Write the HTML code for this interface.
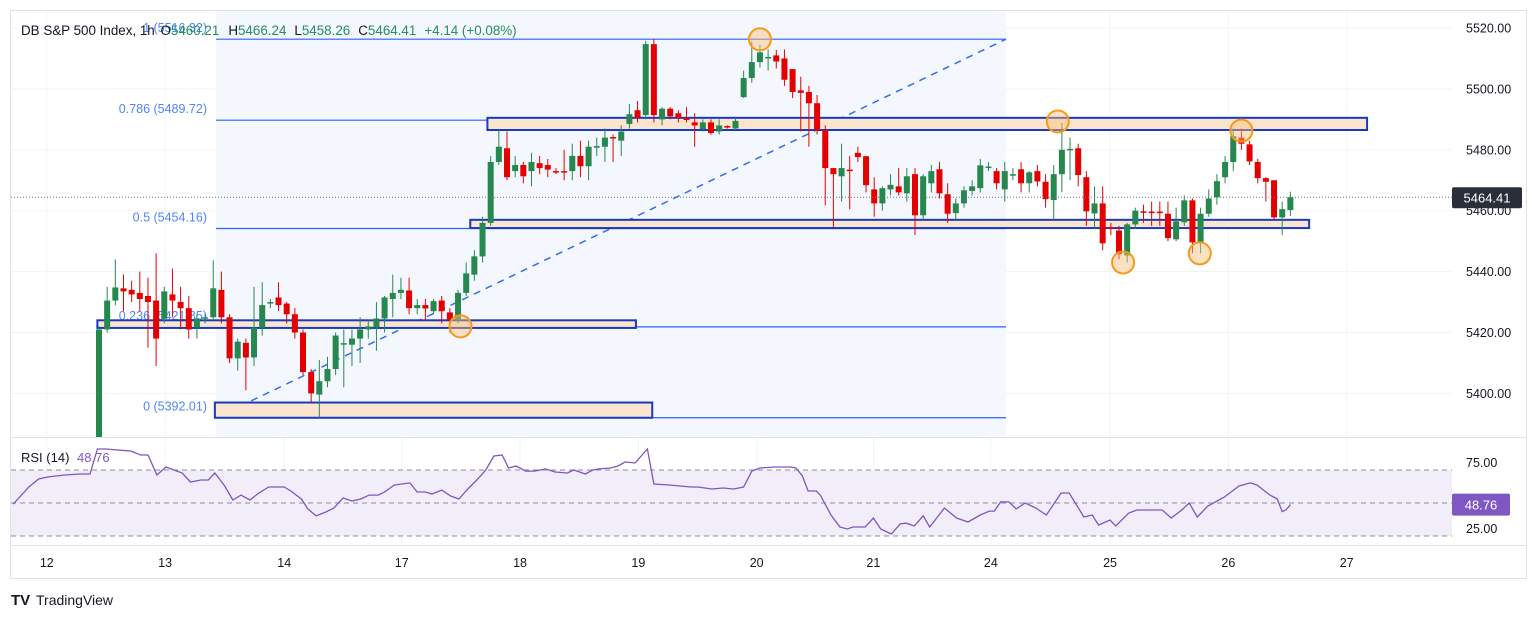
<!DOCTYPE html>
<html><head><meta charset="utf-8">
<style>
html,body{margin:0;padding:0;background:#fff;}
body{width:1536px;height:619px;overflow:hidden;font-family:"Liberation Sans",sans-serif;}
svg text{font-family:"Liberation Sans",sans-serif;}
</style></head>
<body>
<svg id="chart" width="1536" height="619" viewBox="0 0 1536 619" xmlns="http://www.w3.org/2000/svg">
<defs><clipPath id="pclip"><rect x="11" y="11" width="1441" height="426"/></clipPath>
<clipPath id="rclip"><rect x="11" y="438" width="1441" height="107"/></clipPath></defs>
<rect x="10.5" y="10.5" width="1516" height="568" fill="#fff" stroke="#e0e3eb"/>
<g id="grid"></g>
<rect x="216" y="11" width="790" height="426" fill="#f5f7fe"/>
<g id="fib"></g>
<g id="zones"></g>
<g id="candles" clip-path="url(#pclip)"></g>
<g id="circles"></g>
<g id="rsi"></g>
<g id="axes"></g>
<line x1="11" y1="437.5" x2="1526" y2="437.5" stroke="#e0e3eb"/>
<line x1="11" y1="545.5" x2="1526" y2="545.5" stroke="#e0e3eb"/>
<text x="21" y="35" font-size="13.4" fill="#131722">DB S&amp;P 500 Index, 1h <tspan fill="#131722" dx="2">O</tspan><tspan fill="#22915a">5460.21</tspan><tspan fill="#131722" dx="9">H</tspan><tspan fill="#22915a">5466.24</tspan><tspan fill="#131722" dx="8">L</tspan><tspan fill="#22915a">5458.26</tspan><tspan fill="#131722" dx="8">C</tspan><tspan fill="#22915a">5464.41</tspan><tspan fill="#22915a" dx="8">+4.14 (+0.08%)</tspan></text>
<text x="21" y="462" font-size="13" fill="#131722">RSI (14) <tspan fill="#7e57c2" dx="4">48.76</tspan></text>
<g><text x="11" y="605" font-size="15" font-weight="bold" fill="#131722">TV</text><text x="36" y="605" font-size="14" fill="#131722">TradingView</text></g>
</svg>
<script>
const priceTicks=[5520,5500,5480,5460,5440,5420,5400];
const dayLabels=["12","13","14","17","18","19","20","21","24","25","26","27"];
const dayBars=[-6.4,8.1,22.7,37.1,51.6,66.1,80.6,94.9,109.3,123.9,138.4,152.9];
const opens=[5385,5421,5430.5,5434.5,5434,5433,5432,5430.5,5424.5,5432.5,5430,5428,5421.7,5424.6,5425,5434,5425,5411.5,5416.6,5411.8,5421.6,5429.5,5431.5,5429.5,5426,5420,5407,5399.6,5404,5408,5416,5416,5418,5421,5421.7,5424.6,5431,5433,5433.8,5428,5429,5427,5430.5,5426.6,5424,5433,5439,5445,5456,5476,5480.5,5473,5475,5473,5475.6,5475,5473,5473,5473,5478,5474.6,5481,5481,5484.2,5483,5488.5,5493,5491.4,5514.7,5490,5493.5,5492,5490.5,5489,5486.8,5489,5486,5487.8,5487,5497.3,5503.6,5508.8,5510,5511,5510,5506.5,5499.5,5499,5495.3,5486.4,5474,5471.3,5473.5,5479,5477.9,5467,5462.4,5467,5468,5465.7,5472,5458.5,5469,5473.6,5465.4,5459.2,5462.4,5466.5,5467.4,5474,5473,5467,5471.5,5473.6,5469,5473,5469.5,5463.5,5472,5480,5480.5,5471,5459.1,5462.4,5454.6,5453.5,5445.3,5455.5,5459.8,5459.7,5459.7,5459,5450.6,5456.2,5463.4,5449.3,5459,5464.4,5471,5476,5484,5481.8,5476,5470.7,5470,5457.8,5460.21];
const highs=[5422,5435,5444,5439,5437,5440,5438,5446,5435,5441,5435,5432,5426,5426,5443.7,5440,5426,5418,5418,5435,5436.5,5431,5436.5,5430,5428,5421,5408,5411,5412,5420,5421,5421,5425,5424,5430,5432,5439,5438,5438,5431,5431,5431,5432,5428,5434,5443,5447,5458,5478,5486.5,5486,5478,5476,5479,5478,5477,5474,5480,5482,5483,5483,5484,5487,5485,5488,5495,5496,5515.8,5516.3,5494,5494,5493,5494,5492,5490,5490,5490,5488,5490.5,5506,5515.5,5514.5,5513,5512.8,5513,5506.5,5504,5501,5498,5488,5474,5482,5478,5481,5478,5471,5468,5472,5474,5474,5474,5472,5475,5476,5469,5464,5468,5470,5477,5476,5474,5476,5474,5476,5473,5475,5472,5475,5488.8,5484,5482,5473,5468,5468,5456,5455,5456,5461,5462,5463,5463,5463,5461,5465,5464,5461,5467,5472,5478,5487,5487,5483,5477,5471,5470,5463,5466.24];
const lows=[5384,5420,5429,5427,5430,5427,5415,5409,5423,5425,5421,5418,5418,5423,5424,5423,5410,5407.5,5401,5409,5419,5428,5427,5423,5418,5406,5397,5392,5402,5406,5402,5409,5410,5418,5414,5420,5425,5431,5426,5426,5424,5426,5423,5420,5423,5432,5437,5443,5455,5475,5470,5471,5469,5468,5472,5471,5472,5470,5470,5471,5470,5478,5476,5476,5478,5487,5489,5490,5489,5488,5490,5489,5489,5481,5486,5485,5485,5487,5486.5,5497,5502,5507,5506,5506.7,5501,5497,5486,5481,5485,5461.8,5454.5,5463,5460.5,5476,5466,5458,5460,5465,5465,5463,5452,5457,5466,5464,5456,5457,5461,5465,5466,5473,5467,5463,5470,5466,5466,5468,5461,5457,5466,5470,5468,5455,5454,5447,5452,5444,5443,5454,5456,5455,5455,5450,5450,5455,5446,5446,5458,5462,5469,5473,5480,5475,5469,5463,5457,5452,5458.26];
const closes=[5421,5430.5,5434.8,5433.5,5432.5,5431,5430,5418,5433.5,5430.5,5428,5421,5424.6,5425,5434.5,5425,5411.5,5417,5411.8,5421.6,5429,5430,5429,5426,5420,5407,5400,5404,5408,5419,5416.5,5418,5421,5422,5424.6,5431.5,5433,5434,5428,5429,5427.9,5430.3,5427,5424,5433,5439.4,5445,5456,5476,5481,5471,5475,5471.3,5476,5474,5473.5,5472.7,5472.6,5478,5474.6,5481,5481.2,5484,5484,5486,5491.7,5490.5,5514.7,5491.4,5493.5,5491,5490.5,5489.8,5488,5489,5485.5,5488,5487.3,5489.5,5503.6,5508.8,5512,5510.5,5509,5503,5499,5498.7,5495.3,5486.4,5474,5472,5474,5473,5477.6,5468.4,5462.4,5467.4,5468.5,5466,5471.3,5458.5,5471.3,5473,5465.7,5459,5462.4,5466.7,5468,5474.9,5474.5,5469,5473,5472,5469,5472.6,5469.6,5463.8,5472,5480,5480.3,5471.7,5459.8,5462.4,5449.3,5454,5445.7,5455.5,5460,5459.6,5459.5,5459.2,5451,5456.5,5463.4,5449.6,5459,5464,5469.7,5476,5484.5,5482,5476.2,5470.7,5469.5,5457.8,5460.5,5464.41];
const rsiBars=[-10.5,-8.6,-7.4,-6.3,-4.2,-2.3,-1.1,-0.2,0.9,2.1,3.9,5.1,6.0,7.1,8.2,10.2,11.2,12.5,13.4,14.2,15.4,16.4,17.4,18.5,19.6,20.8,22.7,23.5,24.8,25.6,26.6,27.8,28.8,29.9,31.0,32.1,33.1,34.2,35.0,36.2,38.1,39.0,40.0,40.8,42.0,43.1,44.1,45.2,46.3,47.4,48.4,49.4,50.2,51.1,52.3,53.4,54.7,55.9,57.4,58.2,59.6,60.5,61.3,62.7,63.6,64.5,65.7,67.2,68.0,69.9,72.5,73.4,75.1,76.5,77.8,79.0,80.0,81.0,82.8,84.7,85.4,86.2,86.9,87.9,88.4,89.7,90.8,91.7,92.4,93.9,94.9,95.8,97.1,98.2,98.9,99.9,101.0,101.8,103.6,105.1,106.5,108.0,109.1,109.7,110.5,111.5,112.4,113.5,114.8,116.1,117.9,118.9,120.7,121.7,122.5,123.9,124.6,126.2,127.2,130.3,131.4,132.7,133.6,134.6,135.9,137.9,139.7,141.1,141.9,143.5,144.4,145.0,145.5,146.0];
const rsiValues=[49.2,62.1,68.2,69.7,71.2,72,72,90.9,90.9,90.2,89.4,86.4,86.4,71.2,77.3,72.7,65.9,67.4,67.4,72.7,62.9,52.3,56,52.3,57.6,62.1,62.1,59.1,53,45.5,40.2,43.2,46.2,53.8,51.5,53,56,56,58.3,63.6,65.2,58.3,58.3,56.8,59.8,55.3,53,60.6,67.4,75,85.6,86.4,76.5,78,74.2,74.2,75.8,73.5,72.7,75,72,75,75.8,76.5,78,81.1,80.3,90.9,64.4,63.6,62.1,62.1,60.6,61.4,60.6,62.1,74.2,76.5,77.3,77.3,76.5,70.5,59.1,59.1,56,40.9,31.8,30.3,31.8,31.8,38.6,30.3,26.5,34.1,34.8,32.6,40.2,31.8,46.2,38.6,35.6,40.9,43.9,43.9,50.8,50.8,45.5,50,46.2,40.9,57.6,57.6,39.4,40.9,33.3,37.1,32.6,42.4,44.7,44.7,38.6,44.7,50,39.4,47.7,54.5,62.9,65.2,63.6,56,53,43.5,45,48.76];
const rsiLevels=[75,50,25];
const fibRatios=["1","0.786","0.5","0.236","0"];
const fibPrices=[5516.32,5489.72,5454.16,5421.85,5392.01];
const zoneTop=[5490.5,5457,5424,5397];
const zoneBottom=[5486.5,5454.3,5421.5,5392];
const zoneStartBar=[47.6,45.5,-0.2,14.2];
const zoneEndBar=[155.4,148.3,65.8,67.8];
const circleBars=[81,117.5,140,44.3,125.5,134.9];
const circlePrices=[5516.3,5489.3,5486.3,5422,5443,5446];

const NS="http://www.w3.org/2000/svg";
const X0=99, BW=8.16;
const x=b=>X0+b*BW;
const y=p=>28+(5520-p)*3.045;
const ry=v=>503-(v-50)*1.32;
function mk(tag,attrs,parent){const e=document.createElementNS(NS,tag);for(const k in attrs)e.setAttribute(k,attrs[k]);parent.appendChild(e);return e;}
const grid=document.getElementById('grid'),axes=document.getElementById('axes');
priceTicks.forEach(p=>{
  const l=mk('line',{x1:11,x2:1452,y1:y(p),y2:y(p),stroke:'#f0f3fa'},grid);
  
  
  const t=mk('text',{x:1466,y:y(p)+4.5,'font-size':12.5,fill:'#131722'},axes);
  t.textContent=p.toFixed(2);
  
  
});
dayLabels.forEach((d,i)=>{
  const xx=x(dayBars[i]);
  const l=mk('line',{x1:xx,x2:xx,y1:11,y2:545,stroke:'#f0f3fa'},grid);
  
  
  const t=mk('text',{x:xx,y:567,'font-size':12.5,'text-anchor':'middle',fill:'#131722'},axes);
  t.textContent=d;
  
  
});
const fib=document.getElementById('fib');
fibPrices.forEach((p,i)=>{
  const l=mk('line',{x1:216,x2:1006,y1:y(p),y2:y(p),stroke:'#2962ff','stroke-width':1.2},fib);
  
  
  const t=mk('text',{x:207,y:y(p)-7,'font-size':12.5,'text-anchor':'end',fill:'#4f86f7'},fib);
  t.textContent=fibRatios[i]+' ('+p.toFixed(2)+')';
  
  
});
const tl=mk('line',{x1:216,y1:y(fibPrices[4]),x2:1006,y2:y(fibPrices[0]),stroke:'#2f6ff0','stroke-width':1.5,'stroke-dasharray':'7 6'},fib);


const zones=document.getElementById('zones');
zoneTop.forEach((t,i)=>{
  const r=mk('rect',{x:x(zoneStartBar[i]),y:y(t),width:x(zoneEndBar[i])-x(zoneStartBar[i]),height:y(zoneBottom[i])-y(t),fill:'#fbe5cf',stroke:'#1739c4','stroke-width':2},zones);
  
  
});
const cg=document.getElementById('candles');
closes.forEach((c,i)=>{
  const o=opens[i],up=c>=o,col=up?'#26874f':'#e50000';
  const g=mk('g',{},cg);
  
  
  mk('line',{x1:x(i),x2:x(i),y1:y(highs[i]),y2:y(lows[i]),stroke:col,'stroke-width':1},g);
  const top=y(Math.max(o,c)),h=Math.max(1.5,Math.abs(y(o)-y(c)));
  mk('rect',{x:x(i)-3,y:top,width:6,height:h,fill:col},g);
});
const cc=document.getElementById('circles');
circleBars.forEach((b,i)=>{
  const e=mk('circle',{cx:x(b),cy:y(circlePrices[i]),r:11,fill:'rgba(250,190,120,0.45)',stroke:'#f59a1b','stroke-width':2},cc);
  
  
});
const pl=mk('line',{x1:11,x2:1452,y1:y(5464.41),y2:y(5464.41),stroke:'#707070','stroke-dasharray':'1 2'},axes);


const pb=mk('rect',{x:1452,y:y(5464.41)-10,width:70,height:21,rx:2,fill:'#2a2e39'},axes);


const pt=mk('text',{x:1487,y:y(5464.41)+5,'font-size':13,'text-anchor':'middle',fill:'#fff'},axes);
pt.textContent='5464.41';


const rg=document.getElementById('rsi');
const band=mk('rect',{x:11,y:ry(75),width:1441,height:ry(25)-ry(75),fill:'#f1edf9'},rg);


rsiLevels.forEach(v=>{
  const l=mk('line',{x1:11,x2:1452,y1:ry(v),y2:ry(v),stroke:'#8a8e99','stroke-dasharray':'5 4'},rg);
  
  
});
[75,25].forEach(v=>{
  const t=mk('text',{x:1466,y:ry(v)-3,'font-size':12.5,fill:'#131722'},axes);
  t.textContent=v.toFixed(2);
  
  
});
const pts=rsiBars.map((b,i)=>x(b).toFixed(1)+','+ry(rsiValues[i]).toFixed(1)).join(' ');
const rl=mk('polyline',{points:pts,fill:'none',stroke:'#7e57c2','stroke-width':1.3,'clip-path':'url(#rclip)'},rg);


const rb=mk('rect',{x:1452,y:ry(48.76)-11,width:58,height:22,rx:2,fill:'#7e57c2'},axes);


const rt=mk('text',{x:1481,y:ry(48.76)+5,'font-size':13,'text-anchor':'middle',fill:'#fff'},axes);
rt.textContent='48.76';


</script>
</body></html>
